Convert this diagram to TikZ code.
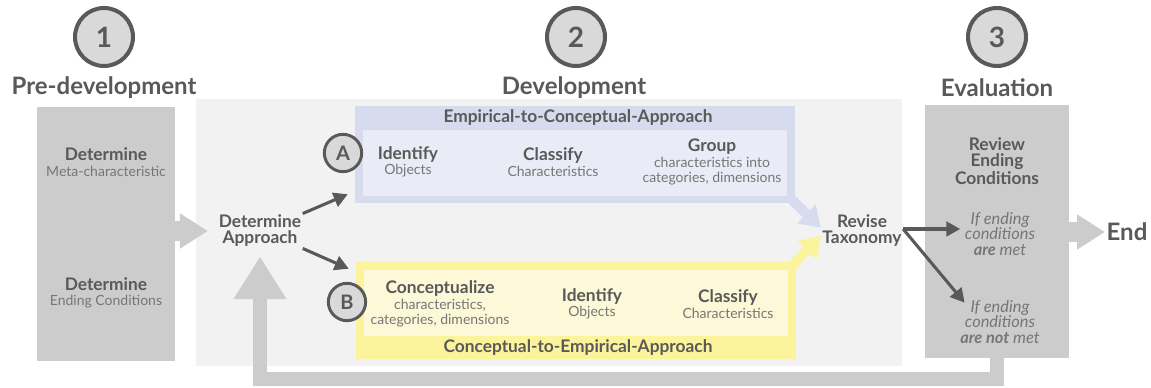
\documentclass[tikz,border=0pt]{standalone}
\usepackage{fontspec}
\setmainfont{Lato}
\usetikzlibrary{arrows.meta, positioning, fit}

\definecolor{txt}{HTML}{595959}
\definecolor{subtxt}{HTML}{767676}
\definecolor{boxgray}{HTML}{CCCCCC}
\definecolor{devbg}{HTML}{F2F2F2}
\definecolor{numfill}{HTML}{D9D9D9}
\definecolor{blueout}{HTML}{D6DCEE}
\definecolor{bluein}{HTML}{E9ECF6}
\definecolor{yelout}{HTML}{FCF49C}
\definecolor{yelin}{HTML}{FCF8D8}

\newcommand{\hd}[1]{{\color{txt}\fontsize{13}{14}\selectfont\bfseries #1}}

\tikzset{
  num/.style={circle, draw=txt, fill=numfill, line width=3pt, minimum size=43.5pt, inner sep=0pt, text=txt, font=\fontsize{21}{21}\selectfont\bfseries},
  letter/.style={circle, draw=txt, fill=numfill, line width=2.2pt, minimum size=28pt, inner sep=0pt, text=txt, font=\fontsize{15}{15}\selectfont\bfseries},
  phase/.style={text=txt, font=\fontsize{18}{19}\selectfont\bfseries},
  area/.style={inner sep=0pt},
  item/.style={align=center, text=subtxt, font=\fontsize{10.5}{11.5}\selectfont},
  lead/.style={align=center, text=txt, inner sep=1pt, font=\fontsize{13}{12}\selectfont\bfseries},
  apptitle/.style={text=txt, font=\fontsize{13}{13}\selectfont\bfseries},
  cond/.style={align=center, text=subtxt, font=\fontsize{12.3}{11.6}\selectfont\itshape},
  fatarrow/.style={boxgray, line width=15pt, -{Triangle[width=25pt,length=21pt]}},
  darrow/.style={txt, line width=2.3pt, -{Triangle[width=11pt,length=10.5pt]}},
}

\begin{document}
\begin{tikzpicture}[x=0.75pt, y=-0.75pt]
\useasboundingbox (0,0) rectangle (1151,388);

% phase areas
\fill[devbg] (196,99) rectangle (902,366);
\node[area, fill=boxgray, fit={(37,107) (175,361)}] (predev) {};
\node[area, fill=boxgray, fit={(925,105) (1069,358)}] (eval) {};

\node[lead] (appr) at (260,231) {Determine\\Approach};
\node[lead] (rev) at (862,231) {Revise\\Taxonomy};

% tails of the two approaches
\coordinate (ectail) at (790,198);
\coordinate (cetail) at (791,267);
\draw[blueout, line width=7.5pt, -{Triangle[width=19pt,length=15pt]}] (ectail) -- ([yshift=2.5pt]rev.west);
\draw[yelout, line width=7.5pt, -{Triangle[width=19pt,length=15pt]}] (cetail) -- ([yshift=-3.5pt]rev.west);

% approach boxes
\node[area, fill=blueout, fit={(355,106) (795,203)}] (ec) {};
\node[area, fill=bluein, fit={(363,130) (787,196)}] (ecin) {};
\node[area, fill=yelout, fit={(356,262) (796,359)}] (ce) {};
\node[area, fill=yelin, fit={(364,270) (788,336)}] (cein) {};

% phases
\node[num] (n1) at (104,37) {1};
\node[num] (n2) at (576,37) {2};
\node[num] (n3) at (997,37) {3};
\node[phase] (pre) at (104,88) {Pre-development};
\node[phase] (dev) at (574,88) {Development};
\node[phase] (eva) at (997,88) {Evaluation};

% pre-development
\node[item] (meta) at (106,162) {\hd{Determine}\\Meta-characteristic};
\node[item] (endc) at (106,293) {\hd{Determine}\\Ending Conditions};

% development
\node[letter] (a) at (343,153) {A};
\node[apptitle] (ectitle) at (578,118) {Empirical-to-Conceptual-Approach};
\node[item] (ec1) at (408,162) {\hd{Identify}\\Objects};
\node[item] (ec2) at (553,162) {\hd{Classify}\\Characteristics};
\node[item] (ec3) at (712,162) {\hd{Group}\\characteristics into\\categories, dimensions};

\node[letter] (b) at (347,302) {B};
\node[item] (ce1) at (440,304) {\hd{Conceptualize}\\characteristics,\\categories, dimensions};
\node[item] (ce2) at (592,304) {\hd{Identify}\\Objects};
\node[item] (ce3) at (728,304) {\hd{Classify}\\Characteristics};
\node[apptitle] (cetitle) at (578,348) {Conceptual-to-Empirical-Approach};

% evaluation
\node[lead] (review) at (997,161) {Review\\Ending\\Conditions};
\node[cond] (met) at (1000,234) {If ending\\conditions\\\textbf{are} met};
\node[cond] (notmet) at (1000,322) {If ending\\conditions\\\textbf{are not} met};
\node[phase, inner sep=1pt] (end) at (1127,232) {End};

% flow
\draw[fatarrow, shorten >=7pt] (predev.east |- appr.west) -- (appr.west);
\draw[fatarrow] (eval.east |- end.west) -- (end.west);
\draw[boxgray, line width=10.5pt, -{Triangle[width=37.5pt,length=32pt]}, shorten >=6pt]
  (eval.south) -- ++(0,21) -| (appr.south);
\draw[darrow] (appr.north east) -- ([shift={(-7,-9)}]ec.south west);
\draw[darrow] (appr.south east) -- ([shift={(-7,7)}]ce.north west);
\coordinate (fork) at ([yshift=1.5pt]rev.east);
\draw[darrow] (fork) -- (fork -| met.west);
\draw[darrow] (fork) -- ([shift={(9,7)}]notmet.north west);

\end{tikzpicture}
\end{document}
